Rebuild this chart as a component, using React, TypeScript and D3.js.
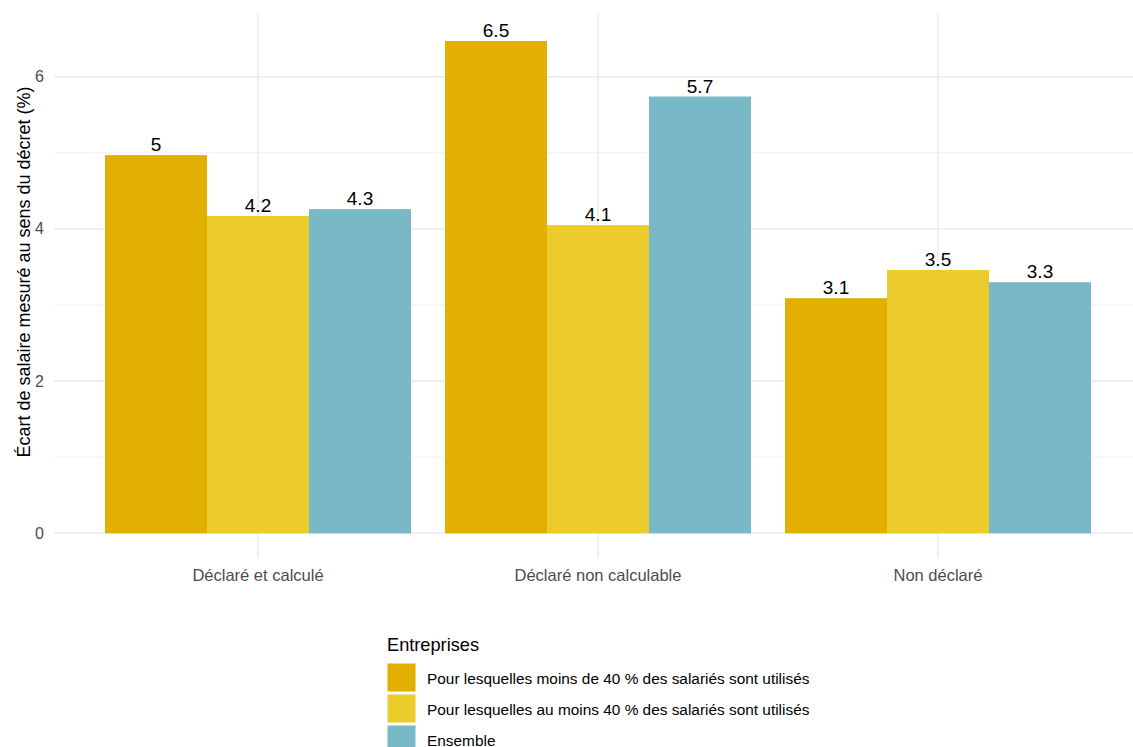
import React from "react";
import * as d3 from "d3";

const categories = ["Déclaré et calculé", "Déclaré non calculable", "Non déclaré"];
const series = [
  "Pour lesquelles moins de 40 % des salariés sont utilisés",
  "Pour lesquelles au moins 40 % des salariés sont utilisés",
  "Ensemble",
];
const seriesColors = ["#E1B000", "#ECCB2D", "#79B8C6"];
const values: number[][] = [
  [4.97, 6.47, 3.09],
  [4.17, 4.05, 3.46],
  [4.26, 5.74, 3.30],
];
const yTicks = [0, 2, 4, 6];
const yMinorTicks = [1, 3, 5];
const yTitle = "Écart de salaire mesuré au sens du décret (%)";
const legendTitle = "Entreprises";

export default function App() {
  const W = 1133, H = 747;
  const panelL = 54, panelR = 1142, panelT = 14, panelB = 558;
  const yMax = 6.825, yMin = -0.325;
  const y = d3.scaleLinear().domain([yMin, yMax]).range([panelB, panelT]);
  const x = d3.scaleBand().domain(categories).range([258 - 170, 938 + 170]).padding(0);
  const xCenter = (c: string) => (x(c) as number) + x.bandwidth() / 2;
  const groupW = 0.9 * x.bandwidth();
  const xs = d3.scaleBand().domain(series).range([0, groupW]);
  const fmt = (v: number) => String(Math.round(v * 10) / 10);
  const font = "Liberation Sans, Arial, sans-serif";
  const grid = "#EBEBEB";

  return (
    <svg width={W} height={H} style={{ position: "absolute", left: 0, top: 0 }} fontFamily={font}>
      <rect width={W} height={H} fill="#fff" />
      {yMinorTicks.map((t) => (
        <line key={"m" + t} x1={panelL} x2={panelR} y1={y(t)} y2={y(t)} stroke={grid} strokeWidth={0.8} />
      ))}
      {yTicks.map((t) => (
        <line key={"M" + t} x1={panelL} x2={panelR} y1={y(t)} y2={y(t)} stroke={grid} strokeWidth={1.6} />
      ))}
      {categories.map((c) => (
        <line key={"v" + c} x1={xCenter(c)} x2={xCenter(c)} y1={panelT} y2={panelB} stroke={grid} strokeWidth={1.6} />
      ))}
      {categories.map((c, i) =>
        series.map((s, j) => {
          const v = values[j][i];
          const x0 = xCenter(c) - groupW / 2 + (xs(s) as number);
          const bw = xs.bandwidth();
          return (
            <g key={c + s}>
              <rect x={x0} y={y(v)} width={bw} height={y(0) - y(v)} fill={seriesColors[j]} />
              <text x={x0 + bw / 2} y={y(v) - 4} textAnchor="middle" fontSize={19} fill="#000">
                {fmt(v)}
              </text>
            </g>
          );
        })
      )}
      {yTicks.map((t) => (
        <text key={"yt" + t} x={44} y={y(t) + 5.5} textAnchor="end" fontSize={16} fill="#4D4D4D">
          {t}
        </text>
      ))}
      {categories.map((c) => (
        <text key={"xt" + c} x={xCenter(c)} y={581} textAnchor="middle" fontSize={16.5} fill="#4D4D4D">
          {c}
        </text>
      ))}
      <text transform={`translate(30,272) rotate(-90)`} textAnchor="middle" fontSize={18} fill="#000">
        {yTitle}
      </text>
      <text x={387} y={651} fontSize={18.2} fill="#000">
        {legendTitle}
      </text>
      {series.map((s, j) => (
        <g key={"lg" + j}>
          <rect x={387} y={663 + j * 31} width={29} height={29} fill={seriesColors[j]} stroke="#fff" strokeWidth={1} />
          <text x={427} y={684 + j * 31} fontSize={15.4} fill="#000">
            {s}
          </text>
        </g>
      ))}
    </svg>
  );
}
